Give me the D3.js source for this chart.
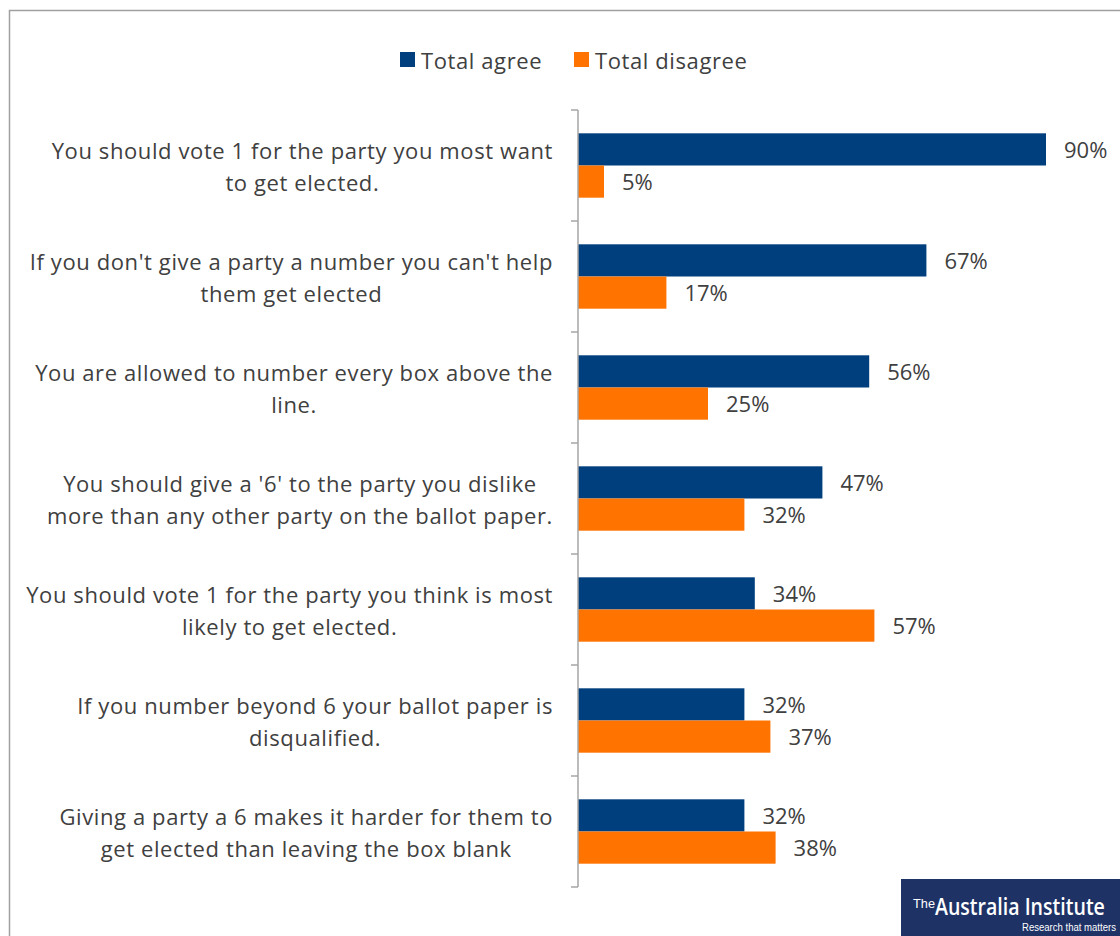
<!DOCTYPE html>
<html>
<head>
<meta charset="utf-8">
<script src="https://cdn.jsdelivr.net/npm/d3@7"></script>
<style>
  body { margin: 0; background: #fff; }
  svg { display: block; }
</style>
</head>
<body>
<svg id="chart" width="1120" height="936"></svg>
<script>
'use strict';

const agreeColour = '#003f7d';
const disagreeColour = '#ff7300';
const textColour = '#404040';
const axisColour = '#a6a6a6';

// statements, one per band, with line breaks as in the original
const statements = [
    ['You should vote 1 for the party you most want', 'to get elected.'],
    ["If you don't give a party a number you can't help", 'them get elected'],
    ['You are allowed to number every box above the', 'line.'],
    ["You should give a '6' to the party you dislike", 'more than any other party on the ballot paper.'],
    ['You should vote 1 for the party you think is most', 'likely to get elected.'],
    ['If you number beyond 6 your ballot paper is', 'disqualified.'],
    ['Giving a party a 6 makes it harder for them to', 'get elected than leaving the box blank']
];
const totalAgree = [90, 67, 56, 47, 34, 32, 32];
const totalDisagree = [5, 17, 25, 32, 57, 37, 38];
const seriesNames = ['Total agree', 'Total disagree'];

const svg = d3.select('#chart');
const font = '"Open Sans", sans-serif';

// chart frame (only top and left visible in the original crop)
svg.append('path')
    .attr('d', 'M9.5,936 V10.5 H1120')
    .attr('fill', 'none')
    .attr('stroke', '#a0a0a0')
    .attr('stroke-width', 1.5);

const plotTop = 110, plotBottom = 887, axisX = 578;

const x = d3.scaleLinear().domain([0, 100]).range([axisX, axisX + 520]);
const y = d3.scaleBand().domain(d3.range(statements.length)).range([plotTop, plotBottom]).paddingInner(0.42).paddingOuter(0.21);
const sub = d3.scaleBand().domain([0, 1]).range([0, y.bandwidth()]);

const rows = statements.map((s, i) => ({ i, s, vals: [totalAgree[i], totalDisagree[i]] }));

const g = svg.append('g');
const bandStep = (plotBottom - plotTop) / statements.length;

rows.forEach(r => {
    const row = g.append('g');
    r.vals.forEach((v, k) => {
        const yy = y(r.i) + sub(k);
        row.append('rect')
            .attr('x', x(0))
            .attr('y', yy)
            .attr('width', x(v) - x(0))
            .attr('height', sub.bandwidth())
            .attr('fill', k === 0 ? agreeColour : disagreeColour);
        row.append('text')
            .attr('x', x(v) + 18)
            .attr('y', yy + sub.bandwidth() / 2)
            .attr('dy', '0.38em')
            .attr('font-family', font)
            .attr('font-size', 22)
            .attr('fill', textColour)
            .text(v + '%');
    });
    // category label: lines centred within a block whose right edge is fixed
    const cy = plotTop + bandStep * (r.i + 0.5);
    const lbl = row.append('text')
        .attr('text-anchor', 'middle')
        .attr('font-family', font)
        .attr('font-size', 22)
        .attr('letter-spacing', 0.6)
        .attr('fill', textColour);
    const spans = r.s.map((line, j) => lbl.append('tspan')
        .attr('y', cy + (j - 0.5) * 32)
        .attr('dy', '0.42em')
        .text(line));
    const maxW = d3.max(spans, s => s.node().getComputedTextLength());
    spans.forEach(s => s.attr('x', 553 - maxW / 2));
});

// vertical axis with ticks between categories
const tickY = d3.range(statements.length + 1).map(i => plotTop + bandStep * i);
svg.append('line')
    .attr('x1', axisX).attr('x2', axisX)
    .attr('y1', plotTop).attr('y2', plotBottom)
    .attr('stroke', axisColour).attr('stroke-width', 1.5);
svg.selectAll('.tick')
    .data(tickY)
    .enter()
    .append('line')
    .attr('x1', axisX - 7).attr('x2', axisX)
    .attr('y1', d => d).attr('y2', d => d)
    .attr('stroke', axisColour).attr('stroke-width', 1.5);

// legend
const legend = svg.append('g');
const legendX = [400, 574];
seriesNames.forEach((name, k) => {
    legend.append('rect')
        .attr('x', legendX[k]).attr('y', 52)
        .attr('width', 15).attr('height', 15)
        .attr('fill', k === 0 ? agreeColour : disagreeColour);
    legend.append('text')
        .attr('x', legendX[k] + 21).attr('y', 69)
        .attr('font-family', font)
        .attr('font-size', 22)
        .attr('letter-spacing', 0.6)
        .attr('fill', textColour)
        .text(name);
});

// logo block; texts squeezed horizontally with a transform to mimic the condensed face
const logo = svg.append('g');
logo.append('rect')
    .attr('x', 901).attr('y', 879)
    .attr('width', 219).attr('height', 57)
    .attr('fill', '#1e3266');

function squeezed(txt, left, baseline, width, size, weight, family) {
    const t = logo.append('text')
        .attr('fill', '#fff')
        .attr('font-family', family)
        .attr('font-weight', weight)
        .attr('font-size', size)
        .text(txt);
    const natural = t.node().getComputedTextLength();
    t.attr('transform', `translate(${left},${baseline}) scale(${width / natural},1)`);
}
squeezed('The', 913, 908, 22, 12, 400, '"Liberation Sans", sans-serif');
squeezed('Australia Institute', 935, 915, 170, 24, 600, '"Open Sans", sans-serif');
squeezed('Research that matters', 1022, 931, 94, 11, 400, '"Liberation Sans", sans-serif');
</script>
</body>
</html>
